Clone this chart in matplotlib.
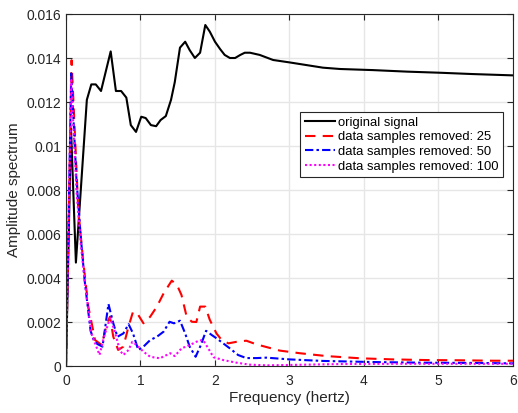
import matplotlib
matplotlib.use("Agg")
import matplotlib.pyplot as plt

# original signal spectrum
f_orig = [0, 0.067, 0.133, 0.28, 0.34, 0.40, 0.47, 0.60, 0.67, 0.74, 0.81, 0.87, 0.94,
          1.01, 1.07, 1.14, 1.21, 1.27, 1.34, 1.41, 1.46, 1.53, 1.60, 1.66, 1.73, 1.80,
          1.87, 1.93, 2.00, 2.07, 2.13, 2.20, 2.27, 2.34, 2.40, 2.47, 2.60, 2.78, 3.0,
          3.45, 3.68, 4.12, 4.58, 5.02, 5.46, 6.0]
a_orig = [0, 0.0108, 0.0047, 0.0121, 0.0128, 0.0128, 0.0125, 0.0143, 0.0125, 0.0125,
          0.0122, 0.01095, 0.01064, 0.01133, 0.01127, 0.01095, 0.0109, 0.01118, 0.01136,
          0.0121, 0.0129, 0.01447, 0.01474, 0.01436, 0.0140, 0.01424, 0.0155, 0.0152,
          0.01474, 0.0144, 0.01414, 0.0140, 0.0140, 0.01414, 0.01424, 0.01424, 0.01414,
          0.01391, 0.0138, 0.01356, 0.0135, 0.01345, 0.01338, 0.01333, 0.01327, 0.01321]

# 25 samples removed
f_25 = [0, 0.075, 0.165, 0.23, 0.30, 0.39, 0.48, 0.55, 0.59, 0.635, 0.70, 0.77, 0.84,
        0.90, 0.97, 1.04, 1.13, 1.22, 1.31, 1.42, 1.49, 1.55, 1.62, 1.69, 1.75, 1.80,
        1.87, 1.93, 2.02, 2.09, 2.18, 2.29, 2.42, 2.56, 2.87, 3.14, 3.5, 3.95, 4.39,
        4.84, 5.29, 5.73, 6.0]
a_25 = [0, 0.0139, 0.0071, 0.0048, 0.0027, 0.00118, 0.00095, 0.00194, 0.00224, 0.00133,
        0.00073, 0.00088, 0.0018, 0.00247, 0.00232, 0.00194, 0.00224, 0.0027, 0.0033,
        0.00388, 0.00368, 0.00323, 0.00224, 0.00201, 0.002, 0.0027, 0.0027, 0.0021,
        0.00148, 0.00118, 0.00103, 0.0011, 0.00115, 0.00098, 0.0007, 0.00058, 0.00045,
        0.00035, 0.0003, 0.00027, 0.00026, 0.00024, 0.00024]

# 50 samples removed
f_50 = [0, 0.07, 0.14, 0.20, 0.25, 0.33, 0.37, 0.42, 0.49, 0.57, 0.635, 0.69, 0.77,
        0.84, 0.90, 0.97, 1.04, 1.13, 1.22, 1.31, 1.39, 1.45, 1.53, 1.60, 1.66, 1.74,
        1.81, 1.88, 1.96, 2.02, 2.11, 2.20, 2.31, 2.42, 2.56, 2.69, 3.0, 3.45, 4.12,
        4.79, 5.46, 6.0]
a_50 = [0, 0.0133, 0.0085, 0.0058, 0.0039, 0.0016, 0.0012, 0.001, 0.00088, 0.00282,
        0.00194, 0.00133, 0.00148, 0.0019, 0.00148, 0.00073, 0.00088, 0.00118, 0.00133,
        0.00156, 0.00201, 0.00194, 0.00206, 0.00148, 0.00088, 0.00042, 0.00095, 0.0016,
        0.0014, 0.00126, 0.00103, 0.0008, 0.0005, 0.00036, 0.00036, 0.00038, 0.0003,
        0.00023, 0.00018, 0.00015, 0.00014, 0.00012]

# 100 samples removed
f_100 = [0, 0.07, 0.14, 0.20, 0.25, 0.34, 0.45, 0.51, 0.59, 0.65, 0.72, 0.77, 0.84,
         0.89, 0.95, 1.04, 1.13, 1.26, 1.40, 1.46, 1.55, 1.66, 1.78, 1.84, 1.91, 1.98,
         2.11, 2.29, 2.47, 2.7, 3.2, 3.7, 4.5, 5.3, 6.0]
a_100 = [0, 0.0130, 0.0080, 0.0055, 0.0039, 0.00148, 0.0005, 0.00133, 0.00217, 0.00164,
         0.00073, 0.0005, 0.00073, 0.0011, 0.00095, 0.00065, 0.00042, 0.00035, 0.00058,
         0.00045, 0.0008, 0.00095, 0.00115, 0.00118, 0.0008, 0.0004, 0.00027, 0.00015,
         0.00006, 0.00003, 0.00006, 0.00009, 0.0001, 0.0001, 0.0001]

labels = ["original signal", "data samples removed: 25",
          "data samples removed: 50", "data samples removed: 100"]

plt.rcParams["font.family"] = ["Liberation Sans", "DejaVu Sans"]
plt.rcParams["font.size"] = 10

fig = plt.figure(figsize=(5.18, 4.13), dpi=100)
ax = fig.add_axes([0.1274, 0.1138, 0.8629, 0.8523])

ax.plot(f_orig, a_orig, color="black", lw=1.5, label=labels[0])
ax.plot(f_25, a_25, color="red", lw=1.5, ls=(0, (5, 3.5)), label=labels[1])
ax.plot(f_50, a_50, color="blue", lw=1.5, ls=(0, (4, 1.5, 1.2, 1.5)), label=labels[2])
ax.plot(f_100, a_100, color="magenta", lw=1.5, ls=(0, (1, 1.2)), label=labels[3])

ax.set_xlim(0, 6)
ax.set_ylim(0, 0.016)
ax.set_xticks([0, 1, 2, 3, 4, 5, 6])
ax.set_yticks([0, 0.002, 0.004, 0.006, 0.008, 0.01, 0.012, 0.014, 0.016])
ax.set_yticklabels(["0", "0.002", "0.004", "0.006", "0.008", "0.01", "0.012", "0.014", "0.016"])
ax.grid(True, color="#e6e6e6", lw=1)
ax.set_axisbelow(True)
ax.tick_params(direction="in", top=True, right=True, length=4, colors="#262626",
               labelsize=10)
ax.tick_params(axis="x", pad=6)
for s in ax.spines.values():
    s.set_color("#262626")
    s.set_linewidth(0.8)

ax.set_xlabel("Frequency (hertz)", color="#262626", fontsize=11, labelpad=2)
ax.set_ylabel("Amplitude spectrum", color="#262626", fontsize=11)

leg = ax.legend(loc="upper right", bbox_to_anchor=(0.978, 0.722), borderaxespad=0,
                fancybox=False, framealpha=1, edgecolor="#262626", handlelength=2.3,
                handletextpad=0.25, borderpad=0.35, labelspacing=0.2, fontsize=9.4)
leg.get_frame().set_linewidth(0.8)

fig.savefig("out.png", dpi=100)
